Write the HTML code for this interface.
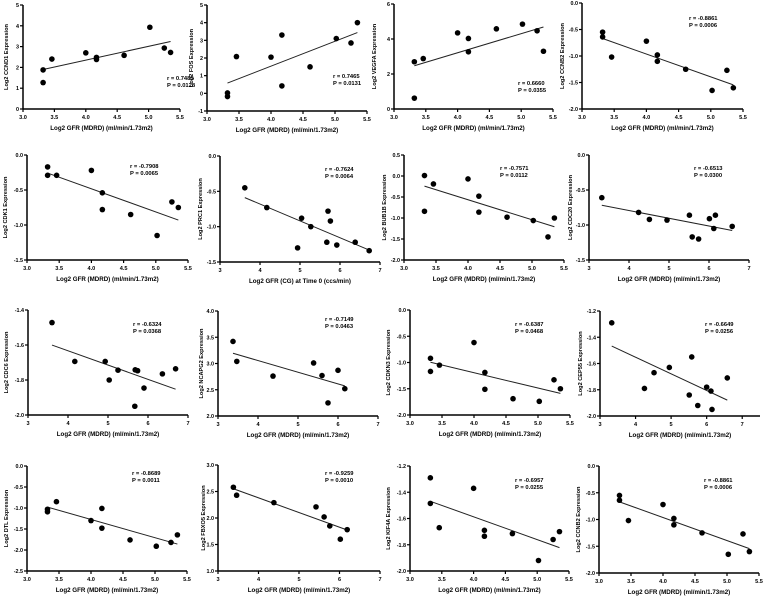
<!DOCTYPE html>
<html><head><meta charset="utf-8"><style>
body{margin:0;background:#fff;}
svg{display:block;font-family:"Liberation Sans",Arial,sans-serif;font-weight:bold;}
</style></head><body>
<svg id="chart" width="764" height="597" viewBox="0 0 764 597" xmlns="http://www.w3.org/2000/svg"></svg>
<script>
const xMDRD=[3.32,3.32,3.46,4.0,4.17,4.17,4.61,5.02,5.25,5.35];
const yCCND1=[1.88,1.27,2.4,2.7,2.48,2.38,2.58,3.93,2.93,2.72];
const yFOS=[0.02,-0.18,2.08,2.05,3.3,0.42,1.5,3.1,2.85,4.0];
const yVEGFA=[2.7,0.62,2.88,4.35,4.03,3.27,4.58,4.85,4.47,3.3];
const yCCNB2=[-0.55,-0.64,-1.02,-0.72,-0.98,-1.1,-1.25,-1.65,-1.27,-1.6];
const yCDK1=[-0.17,-0.29,-0.29,-0.22,-0.54,-0.78,-0.85,-1.15,-0.67,-0.75];
const xPRC1=[3.62,4.17,4.94,5.04,5.27,5.67,5.7,5.76,5.92,6.38,6.73];
const yPRC1=[-0.45,-0.73,-1.3,-0.88,-1.0,-1.22,-0.78,-0.92,-1.26,-1.22,-1.34];
const yBUB1B=[0.01,-0.84,-0.19,-0.07,-0.48,-0.86,-0.98,-1.06,-1.45,-1.0];
const xCDC20=[3.32,4.24,4.51,4.95,5.51,5.58,5.74,6.01,6.12,6.16,6.58];
const yCDC20=[-0.61,-0.82,-0.92,-0.93,-0.86,-1.17,-1.2,-0.91,-1.05,-0.86,-1.02];
const xCDC6=[3.6,4.17,4.93,5.03,5.25,5.67,5.68,5.74,5.9,6.36,6.69];
const yCDC6=[-1.472,-1.694,-1.694,-1.8,-1.744,-1.95,-1.742,-1.747,-1.846,-1.765,-1.736];
const xNCAPG2=[3.375,3.47,4.375,5.39,5.6,5.75,6.0,6.17];
const yNCAPG2=[3.42,3.04,2.76,3.01,2.77,2.25,2.87,2.52];
const yCDKN3=[-0.92,-1.17,-1.05,-0.62,-1.19,-1.51,-1.69,-1.74,-1.33,-1.5];
const xCEP55=[3.33,4.25,4.52,4.95,5.51,5.58,5.75,6.0,6.12,6.15,6.58];
const yCEP55=[-1.29,-1.79,-1.67,-1.63,-1.84,-1.55,-1.92,-1.78,-1.81,-1.95,-1.71];
const yDTL=[-1.03,-1.09,-0.85,-1.3,-1.01,-1.48,-1.76,-1.91,-1.82,-1.64];
const xFBXO5=[3.38,3.46,4.38,5.42,5.62,5.76,6.02,6.19];
const yFBXO5=[2.58,2.43,2.29,2.21,2.02,1.85,1.6,1.78];
const yKIF4A=[-1.29,-1.485,-1.67,-1.37,-1.69,-1.735,-1.715,-1.92,-1.76,-1.70];
const ticksMDRD=[3.0,3.5,4.0,4.5,5.0,5.5];
const ticksInt=[3,4,5,6,7];
const panelGenes=["CCND1","FOS","VEGFA","CCNB2","CDK1","PRC1","BUB1B","CDC20","CDC6","NCAPG2","CDKN3","CEP55","DTL","FBXO5","KIF4A","CCNB2"];
const panelR=["0.7485","0.7465","0.6660","-0.8861","-0.7908","-0.7624","-0.7571","-0.6513","-0.6324","-0.7149","-0.6387","-0.6649","-0.8689","-0.9259","-0.6957","-0.8861"];
const panelP=["0.0128","0.0131","0.0355","0.0006","0.0065","0.0064","0.0112","0.0300","0.0368","0.0463","0.0468","0.0256","0.0011","0.0010","0.0255","0.0006"];
const panelXs=[xMDRD,xMDRD,xMDRD,xMDRD,xMDRD,xPRC1,xMDRD,xCDC20,xCDC6,xNCAPG2,xMDRD,xCEP55,xMDRD,xFBXO5,xMDRD,xMDRD];
const panelYs=[yCCND1,yFOS,yVEGFA,yCCNB2,yCDK1,yPRC1,yBUB1B,yCDC20,yCDC6,yNCAPG2,yCDKN3,yCEP55,yDTL,yFBXO5,yKIF4A,yCCNB2];
const panelYTicks=[[0,1,2,3,4,5],[-1,0,1,2,3,4,5],[0,2,4,6],[0,-0.5,-1,-1.5,-2],[0,-0.5,-1,-1.5],[0,-0.5,-1,-1.5],[0.5,0,-0.5,-1,-1.5,-2],[0,-0.5,-1,-1.5],[-1.4,-1.6,-1.8,-2.0],[4,3.5,3,2.5,2],[0,-0.5,-1,-1.5,-2],[-1.2,-1.4,-1.6,-1.8,-2.0],[0,-0.5,-1,-1.5,-2,-2.5],[3,2.5,2,1.5,1],[-1.2,-1.4,-1.6,-1.8,-2.0],[0,-0.5,-1,-1.5,-2]];
const panelYDec=[0,0,0,1,1,1,1,1,1,1,1,1,1,1,1,1];
const panelXTicks=[ticksMDRD,ticksMDRD,ticksMDRD,ticksMDRD,ticksMDRD,ticksInt,ticksMDRD,ticksInt,ticksInt,ticksInt,ticksMDRD,ticksInt,ticksMDRD,ticksInt,ticksMDRD,ticksMDRD];
const panelXMax=[5.5,5.5,5.5,5.5,5.5,7,5.5,7,7,7,5.5,7.5,5.5,7,5.5,5.5];

// layout (pixel geometry, not data): left,right,top,bottom,annX,annY,yTitleBaselineX
const layout=[
[23,180,5,109,167,75,8],[207,367,5,111,333,73,193],[394,553,4,109,518,80,376],[582,743,3,109,689,15,564],
[27,188,155,260,130,163,7],[220,380,156,262,325,166,202],[404,564,155,260,500,165,386],[589,749,155,260,694,165,572],
[28,188,310,415,133,321,8],[218,378,311,416,325,316,203],[410,570,310,415,515,321,390],[600,760,311,416,705,321,582],
[27,187,466,571,132,470,8],[218,380,465,571,325,470,205],[410,569,466,571,515,477,390],[599,759,466,573,704,477,580]];

const svg=document.getElementById('chart');
const NS='http://www.w3.org/2000/svg';
function mk(tag,attrs,parent){const e=document.createElementNS(NS,tag);for(const k in attrs)e.setAttribute(k,attrs[k]);parent.appendChild(e);return e;}

panelGenes.forEach((gene,i)=>{
  const [L,R,T,B,ax,ay,tx]=layout[i];
  const xt=panelXTicks[i], yt=panelYTicks[i];
  const x0=xt[0], x1=panelXMax[i];
  const ymin=Math.min(...yt), ymax=Math.max(...yt);
  const sx=v=>L+(v-x0)/(x1-x0)*(R-L);
  const sy=v=>B-(v-ymin)/(ymax-ymin)*(B-T);
  const g=mk('g',{},svg);
  
  
  const ya=mk('line',{x1:L,y1:T,x2:L,y2:B,stroke:'#000','stroke-width':1.5},g);
  
  
  const xa=mk('line',{x1:L,y1:B,x2:R,y2:B,stroke:'#000','stroke-width':1.5},g);
  
  
  yt.forEach(v=>{
    const y=sy(v);
    mk('line',{x1:L-3,y1:y,x2:L,y2:y,stroke:'#000','stroke-width':1.2},g);
    const t=mk('text',{x:L-4,y:y+2,'font-size':5.4,'text-anchor':'end',fill:'#000'},g);
    
    
    t.textContent=v.toFixed(panelYDec[i]);
  });
  xt.forEach(v=>{
    const x=sx(v);
    mk('line',{x1:x,y1:B,x2:x,y2:B+3,stroke:'#000','stroke-width':1.2},g);
    const t=mk('text',{x:x,y:B+10,'font-size':5.6,'text-anchor':'middle',fill:'#000'},g);
    
    
    t.textContent=(xt===ticksMDRD)?v.toFixed(1):String(v);
  });
  const xl=mk('text',{x:(L+R)/2,y:B+21,'font-size':6.2,'text-anchor':'middle',fill:'#000'},g);
  
  
  xl.textContent=(i===5)?'Log2 GFR (CG) at Time 0 (ccs/min)':'Log2 GFR (MDRD) (ml/min/1.73m2)';
  const yx=tx, yc=(T+B)/2;
  const yl=mk('text',{x:yx,y:yc,'font-size':5.6,'text-anchor':'middle',fill:'#000',transform:`rotate(-90 ${yx} ${yc})`},g);
  
  
  yl.textContent='Log2 '+gene+' Expression';
  const xs=panelXs[i], ys=panelYs[i], n=xs.length;
  const mx=xs.reduce((a,b)=>a+b,0)/n, my=ys.reduce((a,b)=>a+b,0)/n;
  let sxy=0,sxx=0;for(let k=0;k<n;k++){sxy+=(xs[k]-mx)*(ys[k]-my);sxx+=(xs[k]-mx)**2;}
  const b=sxy/sxx,a=my-b*mx;
  const xa0=Math.min(...xs), xa1=Math.max(...xs);
  const fl=mk('line',{x1:sx(xa0),y1:sy(a+b*xa0),x2:sx(xa1),y2:sy(a+b*xa1),stroke:'#222','stroke-width':1},g);
  
  
  for(let k=0;k<n;k++){
    const c=mk('circle',{cx:sx(xs[k]),cy:sy(ys[k]),r:2.8,fill:'#000'},g);
    
    
  }
  const t1=mk('text',{x:ax,y:ay+5,'font-size':5.8,fill:'#000'},g);
  
  
  t1.textContent='r = '+panelR[i];
  const t2=mk('text',{x:ax,y:ay+12,'font-size':5.8,fill:'#000'},g);
  
  
  t2.textContent='P = '+panelP[i];
});
</script>
</body></html>
